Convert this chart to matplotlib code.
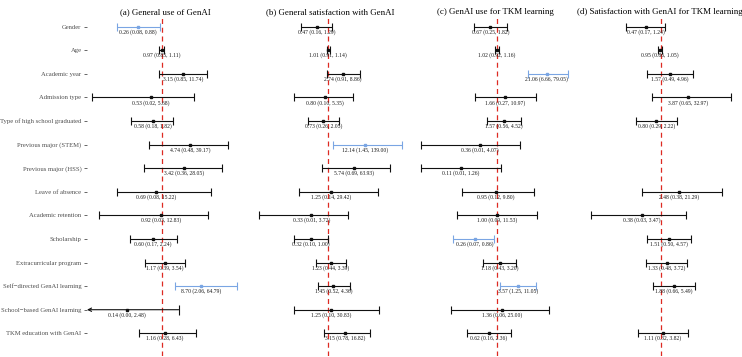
import numpy as np
import matplotlib.pyplot as plt

plt.rcParams['font.family'] = ['Liberation Serif', 'DejaVu Serif']

variables = ["Gender", "Age", "Academic year", "Admission type",
             "Type of high school graduated", "Previous major (STEM)",
             "Previous major (HSS)", "Leave of absence", "Academic retention",
             "Scholarship", "Extracurricular program", "Self\u2212directed GenAI learning",
             "School\u2212based GenAI learning", "TKM education with GenAI"]

titles = ["(a) General use of GenAI", "(b) General satisfaction with GenAI",
          "(c) GenAI use for TKM learning", "(d) Satisfaction with GenAI for TKM learning"]

nan = np.nan
or_a = [0.26, 0.97, 3.15, 0.53, 0.58, 4.74, 3.42, 0.69, 0.92, 0.60, 1.17, 8.70, 0.14, 1.16]
lo_a = [0.08, 0.85, 0.85, 0.02, 0.18, 0.48, 0.36, 0.08, 0.03, 0.17, 0.39, 2.06, 0.001, 0.28]
hi_a = [0.88, 1.11, 11.74, 5.68, 1.82, 39.17, 28.05, 15.22, 12.83, 2.24, 3.54, 64.79, 2.48, 6.43]

or_b = [0.47, 1.01, 2.74, 0.80, 0.73, 12.14, 5.74, 1.25, 0.33, 0.32, 1.23, 1.45, 1.25, 3.15]
lo_b = [0.16, 0.91, 0.91, 0.10, 0.26, 1.45, 0.69, 0.14, 0.01, 0.10, 0.44, 0.52, 0.10, 0.78]
hi_b = [1.29, 1.14, 8.86, 5.35, 2.05, 139.00, 63.93, 29.42, 3.72, 1.00, 3.39, 4.36, 30.83, 16.82]

or_c = [0.67, 1.02, 21.06, 1.66, 1.57, 0.36, 0.11, 0.95, 1.00, 0.26, 1.18, 3.57, 1.36, 0.62]
lo_c = [0.25, 0.92, 6.66, 0.27, 0.56, 0.01, 0.01, 0.12, 0.09, 0.07, 0.43, 1.25, 0.06, 0.16]
hi_c = [1.82, 1.16, 79.05, 10.97, 4.52, 4.07, 1.26, 9.80, 11.53, 0.86, 3.20, 11.05, 25.00, 2.36]

or_d = [0.47, 0.95, 1.57, 3.87, 0.80, nan, nan, 2.48, 0.38, 1.51, 1.33, 1.88, nan, 1.11]
lo_d = [0.17, 0.86, 0.49, 0.65, 0.29, nan, nan, 0.38, 0.03, 0.50, 0.48, 0.66, nan, 0.32]
hi_d = [1.24, 1.05, 4.96, 32.97, 2.22, nan, nan, 21.29, 3.47, 4.57, 3.72, 5.49, nan, 3.82]

panels = [(or_a, lo_a, hi_a), (or_b, lo_b, hi_b), (or_c, lo_c, hi_c), (or_d, lo_d, hi_d)]
xlims = [(0.0153, 93), (0.0062, 228), (0.0076, 112), (0.0183, 47.4)]

W, H = 742, 357
fig = plt.figure(figsize=(W / 100, H / 100), dpi=100)
lefts = [87, 252, 417, 581]
pw = 157
top_px, bot_px = 16, 356
row_px = (333.3 - 26.7) / 13
y_top = -(26.7 - top_px) / row_px
y_bot = 13 + (bot_px - 333.3) / row_px

black = '#111111'
blue = '#7aa5e3'
ys = np.arange(len(variables))

for k, (ors, los, his) in enumerate(panels):
    ax = fig.add_axes([lefts[k] / W, 1 - bot_px / H, pw / W, (bot_px - top_px) / H])
    ax.set_xscale('log')
    ax.set_xlim(*xlims[k])
    ax.set_ylim(y_bot, y_top)
    ax.axvline(1, color='#dd2a22', lw=0.9, dashes=(4, 3), zorder=1)
    x0 = xlims[k][0]
    for i in range(len(variables)):
        o, lo, hi = ors[i], los[i], his[i]
        if np.isnan(o):
            continue
        c = blue if (lo > 1 or hi < 1) else black
        if lo < x0:
            ax.annotate('', xy=(x0, i), xytext=(hi, i),
                        arrowprops=dict(arrowstyle='->', color=c, lw=0.8,
                                        shrinkA=0, shrinkB=0, mutation_scale=6))
            ax.plot([hi], [i], marker='|', ms=6.5, mew=0.8, color=c)
        else:
            ax.errorbar(o, i, xerr=[[o - lo], [hi - o]], fmt='none', ecolor=c,
                        elinewidth=0.8, capsize=3.2, capthick=0.8, zorder=2)
        ax.plot([o], [i], marker='s', ms=1.9, color=c, mec=c, zorder=3)
        ax.text(o, i + 0.22, f"{o:.2f} ({lo:.2f}, {hi:.2f})", ha='center', va='center',
                fontsize=4.1, color='#1a1a1a', zorder=4)
    for s in ax.spines.values():
        s.set_visible(False)
    ax.set_xticks([])
    ax.xaxis.set_minor_locator(plt.NullLocator())
    if k == 0:
        ax.set_yticks(ys)
        ax.set_yticklabels(variables, fontsize=4.8, color='#4d4d4d')
        ax.tick_params(axis='y', length=2.5, width=0.6, color='#4d4d4d', pad=1.5)
    else:
        ax.set_yticks([])
    ax.set_title(titles[k], fontsize=6.4, pad=1.5, color='black')

fig.savefig('out.png', dpi=100)
